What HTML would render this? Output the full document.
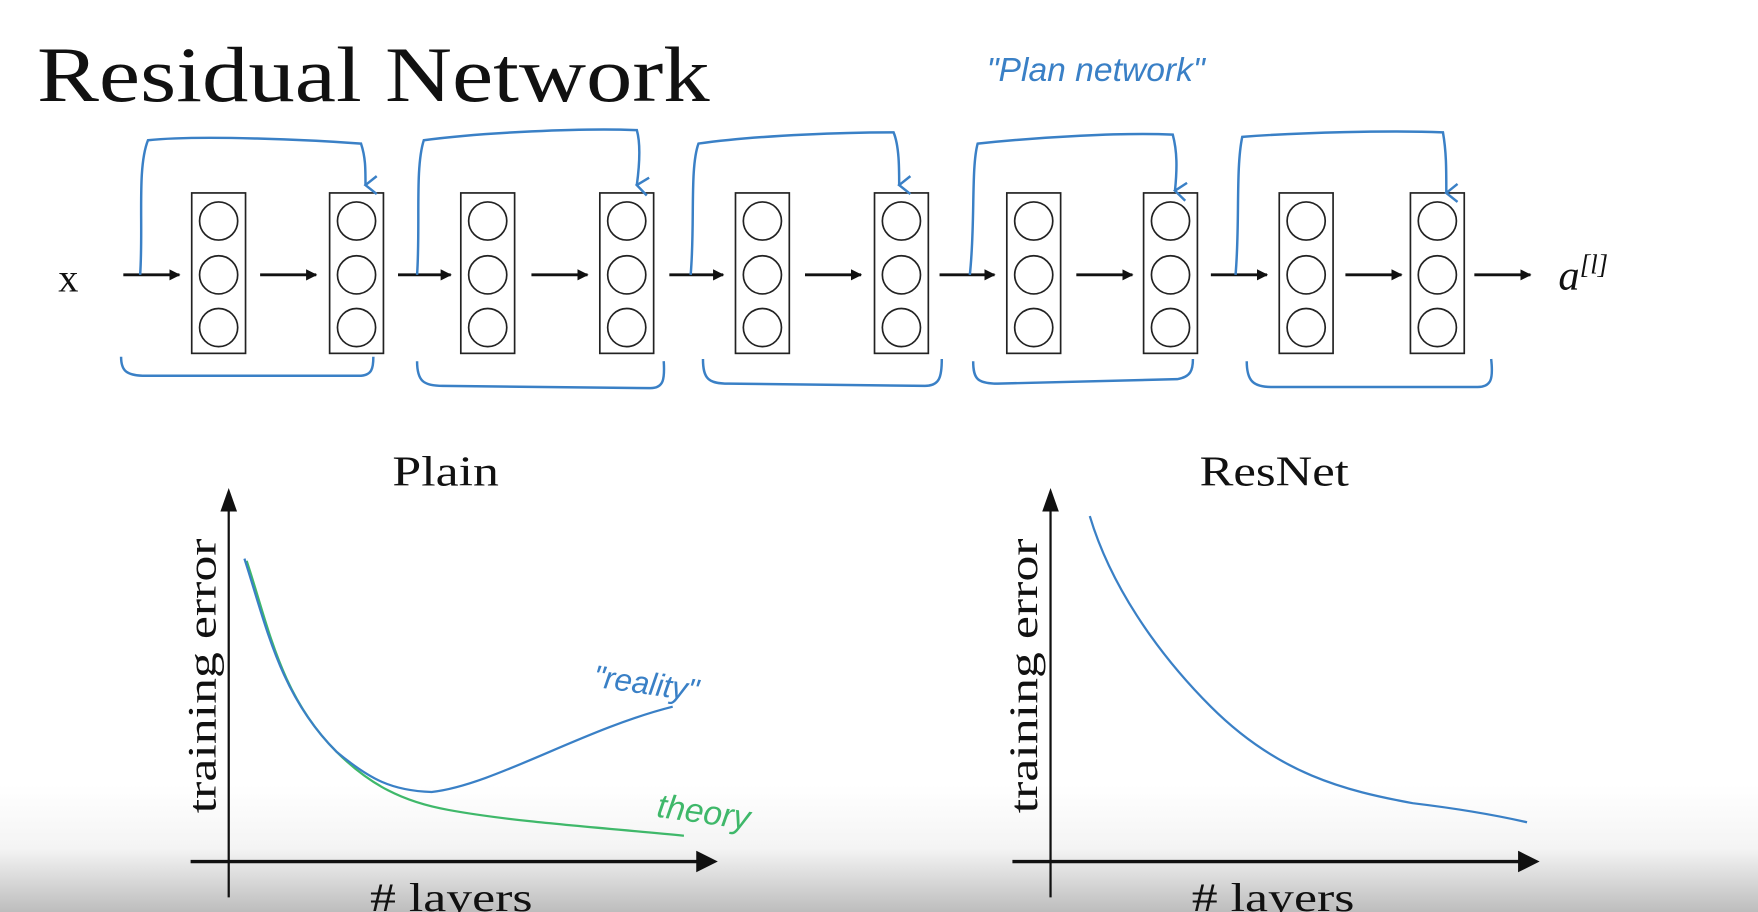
<!DOCTYPE html>
<html><head><style>
html,body{margin:0;padding:0;width:1758px;height:912px;overflow:hidden;background:#fff}
svg{display:block}
</style></head><body>
<svg width="1758" height="912" viewBox="0 0 1568 813" preserveAspectRatio="none" xmlns="http://www.w3.org/2000/svg">
<defs>
<linearGradient id="g" x1="0" y1="0" x2="0" y2="1">
<stop offset="0" stop-color="#fff"/><stop offset="0.5" stop-color="#f4f4f4"/><stop offset="1" stop-color="#bdbdbd"/>
</linearGradient>
<marker id="ah" markerWidth="10" markerHeight="10" refX="9" refY="5" orient="auto" markerUnits="userSpaceOnUse">
<path d="M0,0 L10,5 L0,10 z" fill="#111"/></marker>
<marker id="bh" markerWidth="20" markerHeight="20" refX="10" refY="16" orient="auto" markerUnits="userSpaceOnUse">
<path d="M2,6 L10,16 L18,6" fill="none" stroke="#3a80c6" stroke-width="2.2"/></marker>
</defs>
<rect x="0" y="700" width="1568" height="113" fill="url(#g)"/>
<text x="33" y="90" font-family="Liberation Serif,serif" font-size="70" fill="#111" textLength="600" lengthAdjust="spacingAndGlyphs">Residual Network</text>
<text x="880" y="72" font-family="Liberation Sans,sans-serif" font-size="30" fill="#3a80c6" font-style="italic" font-weight="300">"Plan   network"</text>
<g stroke="#222" stroke-width="1.5" fill="none">
<rect x="171" y="172" width="48" height="143"/><rect x="294" y="172" width="48" height="143"/>
<rect x="411" y="172" width="48" height="143"/><rect x="535" y="172" width="48" height="143"/>
<rect x="656" y="172" width="48" height="143"/><rect x="780" y="172" width="48" height="143"/>
<rect x="898" y="172" width="48" height="143"/><rect x="1020" y="172" width="48" height="143"/>
<rect x="1141" y="172" width="48" height="143"/><rect x="1258" y="172" width="48" height="143"/>
</g>
<g stroke="#222" stroke-width="1.5" fill="none">
<g id="c"><circle cx="195" cy="197" r="17"/><circle cx="195" cy="245" r="17"/><circle cx="195" cy="292" r="17"/></g>
<use href="#c" x="123"/><use href="#c" x="240"/><use href="#c" x="364"/><use href="#c" x="485"/>
<use href="#c" x="609"/><use href="#c" x="727"/><use href="#c" x="849"/><use href="#c" x="970"/><use href="#c" x="1087"/>
</g>
<g stroke="#111" stroke-width="2.5" marker-end="url(#ah)">
<line x1="110" y1="245" x2="160" y2="245"/><line x1="232" y1="245" x2="282" y2="245"/>
<line x1="355" y1="245" x2="402" y2="245"/><line x1="474" y1="245" x2="524" y2="245"/>
<line x1="597" y1="245" x2="645" y2="245"/><line x1="718" y1="245" x2="768" y2="245"/>
<line x1="838" y1="245" x2="887" y2="245"/><line x1="960" y1="245" x2="1010" y2="245"/>
<line x1="1080" y1="245" x2="1130" y2="245"/><line x1="1200" y1="245" x2="1250" y2="245"/>
<line x1="1315" y1="245" x2="1365" y2="245"/>
</g>
<text x="52" y="260" font-family="Liberation Serif,serif" font-size="36" fill="#111">x</text>
<text x="1390" y="258" font-family="Liberation Serif,serif" font-size="38" font-style="italic" fill="#111">a<tspan font-size="24" dy="-14">[l]</tspan></text>
<g stroke="#3a80c6" stroke-width="2.2" fill="none">
<path d="M125,245 C128,200 122,150 132,125 C180,120 280,125 322,128 C326,140 326,150 326,165" marker-end="url(#bh)"/>
<path d="M372,245 C375,200 370,150 378,125 C430,118 520,114 568,116 C572,130 570,150 568,165" marker-end="url(#bh)"/>
<path d="M616,245 C620,200 615,150 623,128 C680,120 760,118 797,118 C802,130 802,150 802,165" marker-end="url(#bh)"/>
<path d="M865,245 C870,200 866,150 872,128 C930,122 1000,118 1046,120 C1050,135 1050,150 1048,170" marker-end="url(#bh)"/>
<path d="M1102,245 C1106,200 1102,150 1108,122 C1160,118 1240,116 1287,118 C1290,135 1290,150 1290,172" marker-end="url(#bh)"/>
<path d="M108,318 C108,330 112,335 130,335 L320,335 C332,335 333,328 333,318"/>
<path d="M372,322 C372,340 378,344 395,344 L580,346 C592,346 593,338 592,322"/>
<path d="M627,320 C627,338 632,342 650,342 L825,344 C838,344 840,336 840,320"/>
<path d="M868,322 C868,338 872,342 890,342 L1050,338 C1062,336 1064,330 1064,320"/>
<path d="M1112,322 C1112,340 1118,345 1135,345 L1318,345 C1330,345 1332,338 1330,320"/>
</g>
<text x="350" y="433" font-family="Liberation Serif,serif" font-size="38" fill="#111" textLength="95" lengthAdjust="spacingAndGlyphs">Plain</text>
<text x="1070" y="433" font-family="Liberation Serif,serif" font-size="38" fill="#111" textLength="133" lengthAdjust="spacingAndGlyphs">ResNet</text>
<g stroke="#111" stroke-width="2">
<line x1="204" y1="800" x2="204" y2="450"/><path d="M198,455 L204,438 L210,455z" fill="#111"/>
<line x1="170" y1="768" x2="625" y2="768" stroke-width="3"/><path d="M622,760 L638,768 L622,776z" fill="#111"/>
<line x1="937" y1="800" x2="937" y2="450"/><path d="M931,455 L937,438 L943,455z" fill="#111"/>
<line x1="903" y1="768" x2="1358" y2="768" stroke-width="3"/><path d="M1355,760 L1371,768 L1355,776z" fill="#111"/>
</g>
<text transform="translate(192,725) rotate(-90)" font-family="Liberation Serif,serif" font-size="36" fill="#111" textLength="245" lengthAdjust="spacingAndGlyphs">training error</text>
<text transform="translate(925,725) rotate(-90)" font-family="Liberation Serif,serif" font-size="36" fill="#111" textLength="245" lengthAdjust="spacingAndGlyphs">training error</text>
<text x="330" y="812" font-family="Liberation Serif,serif" font-size="36" fill="#111" textLength="145" lengthAdjust="spacingAndGlyphs"># layers</text>
<text x="1063" y="812" font-family="Liberation Serif,serif" font-size="36" fill="#111" textLength="145" lengthAdjust="spacingAndGlyphs"># layers</text>
<path d="M220,500 C240,560 250,620 300,670 C330,700 360,715 400,722 C460,733 540,738 610,745" stroke="#3fb86a" stroke-width="2" fill="none"/>
<path d="M218,498 C238,560 250,620 300,670 C330,695 350,705 385,706 C440,700 520,650 600,630" stroke="#3a80c6" stroke-width="2" fill="none"/>
<path d="M972,460 C990,520 1030,580 1080,630 C1140,690 1200,705 1260,716 C1310,722 1340,728 1362,733" stroke="#3a80c6" stroke-width="2" fill="none"/>
<text x="528" y="612" font-family="Liberation Sans,sans-serif" font-size="28" font-style="italic" font-weight="300" fill="#3a80c6" transform="rotate(8 528 612)">"reality"</text>
<text x="585" y="728" font-family="Liberation Sans,sans-serif" font-size="30" font-style="italic" font-weight="300" fill="#3fb86a" transform="rotate(8 585 728)">theory</text>
</svg>
</body></html>
